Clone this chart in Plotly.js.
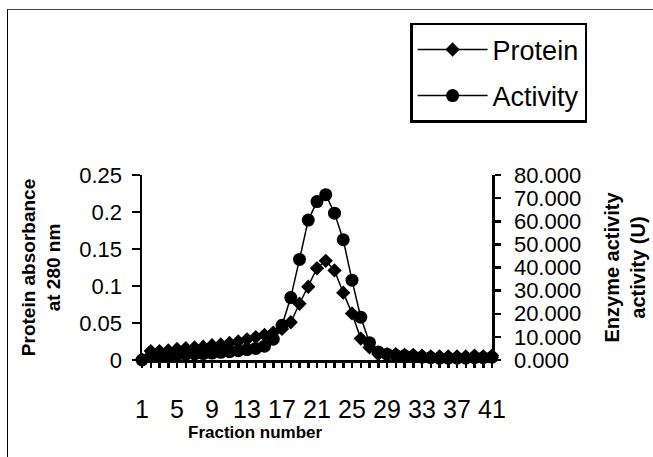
<!DOCTYPE html>
<html>
<head>
<meta charset="utf-8">
<script src="https://cdn.plot.ly/plotly-3.0.1.min.js"></script>
<style>
  html, body { margin: 0; padding: 0; background: #fff; }
  #wrap { position: relative; width: 653px; height: 457px; overflow: hidden; }
  #chart { position: absolute; left: 0; top: 0; width: 653px; height: 457px; }
  #frame { position: absolute; left: 7px; top: 9px; width: 720px; height: 520px;
           border-left: 1px solid #000; border-top: 1px solid #444; pointer-events: none; }
</style>
</head>
<body>
<div id="wrap">
  <div id="chart"></div>
  <div id="frame"></div>
</div>
<script>
// ---- data ----
const fractions = [1,2,3,4,5,6,7,8,9,10,11,12,13,14,15,16,17,18,19,20,21,22,23,24,25,26,27,28,29,30,31,32,33,34,35,36,37,38,39,40,41];
const protein = [0.000,0.012,0.012,0.013,0.015,0.016,0.017,0.018,0.020,0.021,0.023,0.025,0.028,0.031,0.034,0.037,0.042,0.051,0.076,0.099,0.124,0.134,0.121,0.091,0.063,0.029,0.017,0.008,0.008,0.008,0.007,0.007,0.006,0.005,0.005,0.005,0.005,0.005,0.006,0.005,0.006];
const activity = [0.0,1.5,1.8,2.0,2.2,2.4,2.6,2.8,3.0,3.3,3.6,4.0,4.5,5.0,6.0,9.0,15.0,27.0,43.5,60.5,68.5,71.5,63.5,52.0,34.5,18.5,7.5,3.5,2.5,2.0,1.8,1.5,1.2,1.0,0.8,0.8,0.8,0.8,1.0,1.0,1.2];
const xTickLabels = [1,5,9,13,17,21,25,29,33,37,41];
const seriesNames = ["Protein", "Activity"];
const leftTitle = "Protein absorbance<br>at 280 nm";
const rightTitle = "Enzyme activity<br>activity (U)";
const xTitle = "Fraction number";

const FONT = "Liberation Sans, Arial, sans-serif";
const tickText = fractions.map(f => xTickLabels.includes(f) ? String(f) : "");

const traces = [
  {
    x: fractions, y: protein, name: seriesNames[0], type: "scatter", mode: "lines+markers",
    xaxis: "x", yaxis: "y", legendgroup: "p", cliponaxis: false,
    line: {color: "#000", width: 1.5},
    marker: {symbol: "diamond", size: 11, color: "#000"}
  },
  {
    x: fractions, y: activity, name: seriesNames[1], type: "scatter", mode: "lines+markers",
    xaxis: "x", yaxis: "y2", legendgroup: "a", cliponaxis: false,
    line: {color: "#000", width: 1.5},
    marker: {symbol: "circle", size: 13, color: "#000"}
  }
];

const layout = {
  width: 653, height: 457,
  margin: {l: 142, r: 161, t: 175, b: 97},
  paper_bgcolor: "#fff", plot_bgcolor: "#fff",
  showlegend: true,
  font: {family: FONT, color: "#000"},
  xaxis: {
    range: [1, 41], tickmode: "array", tickvals: fractions, ticktext: tickText,
    ticks: "outside", ticklen: 5, tickwidth: 2.5, tickcolor: "#000",
    showline: true, linewidth: 2.5, linecolor: "#000",
    showgrid: false, zeroline: false,
    tickfont: {family: FONT, size: 25, color: "#000"},
    ticklabelstandoff: 20
  },
  xaxis3: {
    overlaying: "x", anchor: "y", range: [1, 41], tickmode: "array", tickvals: fractions,
    ticks: "inside", ticklen: 6, tickwidth: 2.5, tickcolor: "#000",
    showticklabels: false, showline: false, showgrid: false, zeroline: false
  },
  yaxis: {
    range: [0, 0.25], tickmode: "array", tickvals: [0, 0.05, 0.1, 0.15, 0.2, 0.25],
    ticktext: ["0", "0.05", "0.1", "0.15", "0.2", "0.25"],
    ticks: "outside", ticklen: 8, tickwidth: 2.5, tickcolor: "#000",
    showline: true, linewidth: 2.5, linecolor: "#000",
    showgrid: false, zeroline: false,
    tickfont: {family: FONT, size: 22, color: "#000"},
    ticklabelstandoff: 5,
    title: {text: leftTitle, font: {family: FONT, size: 19, weight: "bold", color: "#000"}, standoff: 14}
  },
  yaxis2: {
    overlaying: "y", side: "right", anchor: "x",
    range: [0, 80], tickmode: "linear", tick0: 0, dtick: 10, tickformat: ".3f",
    ticks: "outside", ticklen: 6, tickwidth: 2.5, tickcolor: "#000",
    showline: true, linewidth: 2.5, linecolor: "#000",
    showgrid: false, zeroline: false,
    tickfont: {family: FONT, size: 22, color: "#000"},
    ticklabelstandoff: 9,
    title: {text: rightTitle, font: {family: FONT, size: 20, weight: "bold", color: "#000"}, standoff: 25}
  },
  legend: {
    x: 0.766, y: 1.822, xanchor: "left", yanchor: "top",
    bgcolor: "#fff", bordercolor: "#000", borderwidth: 2.5,
    font: {family: FONT, size: 27, color: "#000"},
    traceorder: "grouped", tracegroupgap: 8, itemwidth: 70
  },
  annotations: [
    {text: xTitle, xref: "paper", yref: "paper", x: (255 - 142) / 350, y: -(432 - 360) / 185,
     xanchor: "center", yanchor: "middle", showarrow: false,
     font: {family: FONT, size: 17, weight: "bold", color: "#000"}}
  ]
};

Plotly.newPlot("chart", traces, layout, {displayModeBar: false, staticPlot: true});
</script>
</body>
</html>
